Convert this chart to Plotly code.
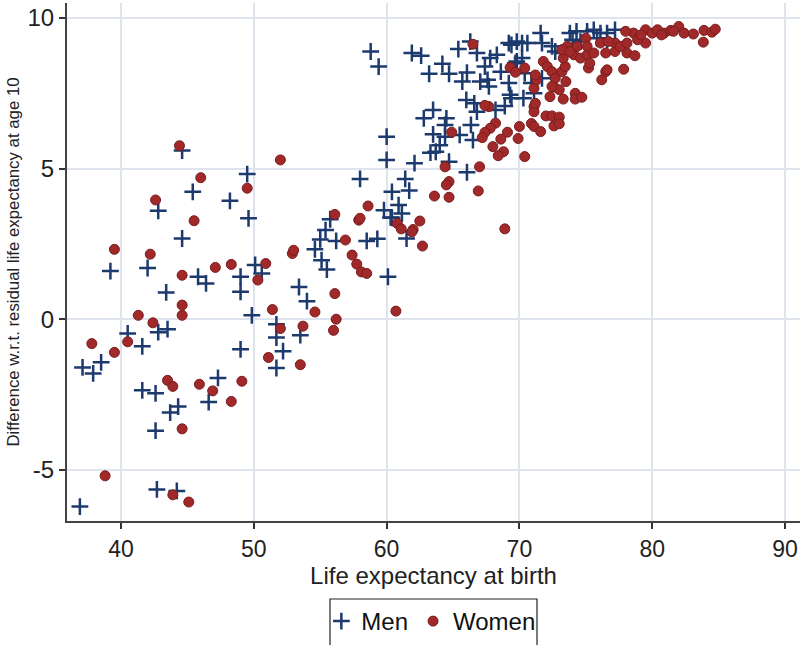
import plotly.graph_objects as go

# ---- Data ----
men_x = [
    36.9, 37.1, 37.9, 38.5, 39.2, 40.5, 41.6, 41.6, 42.0, 42.6, 42.6, 42.8, 42.7, 42.8, 43.5, 43.4,
    43.7, 44.3, 44.2, 44.6, 44.6, 45.4, 45.8, 46.4, 47.3, 46.6, 48.2, 49.0, 49.0, 49.0, 49.5, 49.6,
    49.85, 50.1, 50.6,
    58.0, 55.75, 55.4, 55.0, 56.2, 54.6, 55.1, 55.5, 58.5, 59.3, 59.8, 60.4, 60.1, 53.4, 54.0,
    60.0, 61.4, 60.4, 60.9, 61.15, 60.3, 61.5, 51.7, 51.7, 52.2, 51.7, 53.5,
    58.8, 59.4, 61.9, 62.6, 63.2, 64.2, 64.7, 65.4, 66.3, 66.8, 66.05, 65.7, 67.05, 67.4, 67.8, 68.3,
    69.2, 69.8, 67.6, 67.7, 68.6, 69.2, 69.3, 69.7, 66.0, 66.6, 66.8, 68.2, 68.9, 62.8, 63.5, 64.5,
    64.4, 63.5, 64.4, 65.5, 66.35, 66.5, 64.0, 64.7, 60.0, 62.1, 66.05, 61.7, 63.3, 63.7,
    71.6, 71.7, 69.4, 70.2, 70.6, 69.8, 70.2, 69.4, 70.3, 70.4, 70.9, 71.7, 71.1, 72.45, 72.7,
    73.8, 74.3, 75.1, 75.6, 76.1, 76.6, 77.2, 74.0, 74.6, 75.85, 76.6, 73.2,
]
men_y = [
    -6.22, -1.6, -1.8, -1.43, 1.6, -0.47, -0.9, -2.36, 1.7, -2.46, -3.7, 3.6, -5.65, -0.43, -0.33, 0.89,
    -3.1, -2.9, -5.7, 5.6, 2.68, 4.23, 1.41, 1.19, -1.95, -2.75, 3.93, 1.41, 0.91, -1.0, 4.82, 3.35,
    0.13, 1.8, 1.52,
    4.66, 3.32, 2.96, 2.65, 2.6, 2.32, 1.96, 1.65, 2.6, 2.67, 3.62, 3.37, 1.41, 1.07, 0.6,
    5.29, 4.66, 4.23, 3.79, 3.51, 3.38, 2.68, -0.17, -0.61, -1.06, -1.62, -0.53,
    8.89, 8.39, 8.84, 8.75, 8.15, 8.48, 8.15, 8.97, 9.22, 8.84, 8.19, 7.89, 7.89, 8.39, 8.67, 8.78,
    9.17, 9.22, 7.95, 7.73, 8.22, 7.84, 7.45, 8.5, 7.28, 7.17, 6.89, 6.95, 7.08, 6.67, 6.95, 6.67,
    6.45, 6.14, 6.06, 6.12, 6.45, 5.95, 5.78, 5.23, 6.06, 5.18, 4.88, 4.27, 5.53, 5.56,
    9.5, 9.17, 9.11, 9.17, 9.17, 8.56, 8.67, 7.34, 7.34, 8.17, 7.84, 8.0, 7.5, 9.06, 8.89,
    9.5, 9.56, 9.56, 9.61, 9.5, 9.5, 9.61, 9.28, 9.22, 9.33, 9.28, 8.84,
]

women_x = [
    37.8, 38.8, 39.5, 39.5, 40.5, 41.3, 42.2, 42.4, 42.6, 43.5, 43.9, 43.9, 44.4, 44.6, 44.6, 44.6,
    44.6, 45.1, 45.5, 46.0, 45.9, 46.9, 47.1, 48.3, 48.3, 49.1, 49.5, 50.3, 50.9,
    52.9, 57.4, 57.75, 58.1, 58.5, 56.1, 51.4, 54.6, 56.2, 52.0, 53.7, 56.0, 51.1, 53.5, 60.7, 52.0,
    56.1, 58.6, 57.9, 58.0, 56.9, 53.0, 60.8, 61.1,
    66.5, 69.3, 67.7, 68.2, 67.8, 67.4, 67.2, 69.1, 68.6, 68.0, 68.8, 68.4, 70.0, 64.9, 67.0, 64.4,
    64.7, 64.5, 66.9, 63.6, 64.7, 62.5, 62.0, 61.9, 62.7, 68.9, 70.9, 70.4, 67.4,
    71.1, 71.6, 72.0, 72.45, 73.0, 72.6, 73.0, 71.1, 71.1, 71.2, 72.3, 73.3, 74.2, 74.2, 74.7, 72.6,
    73.0, 73.5, 71.1, 71.3, 71.2, 70.4, 71.8, 72.1, 72.45, 73.2, 73.45, 73.3, 74.1, 74.6, 75.1, 75.2,
    75.3, 76.2, 76.5, 76.6, 77.85, 76.5, 77.2, 78.1, 78.7, 77.2, 77.6, 78.1, 78.6, 78.0, 79.5, 79.5,
    80.0, 80.4, 80.9, 81.4, 82.0, 82.4, 83.1, 83.9, 83.85, 84.5, 84.75, 75.0, 74.35, 75.1, 75.6, 73.6,
    73.2, 73.8, 76.1, 76.7, 78.9, 79.15, 80.7, 81.6, 72.7, 72.45, 69.7, 69.9,
]
women_y = [
    -0.81, -5.2, -1.1, 2.32, -0.75, 0.13, 2.16, -0.12, 3.96, -2.03, -2.23, -5.83, 5.76, -3.64, 0.47, 0.13,
    1.46, -6.07, 3.27, 4.7, -2.16, -2.38, 1.72, 1.82, -2.73, -2.06, 4.35, 1.3, 1.85,
    2.18, 2.13, 1.83, 1.57, 1.52, 0.85, 0.32, 0.24, 0.0, -0.31, -0.23, -0.37, -1.27, -1.51, 0.27, 5.29,
    3.48, 3.76, 3.29, 3.35, 2.63, 2.29, 3.18, 3.0,
    9.13, 8.36, 7.06, 6.51, 6.34, 6.2, 6.03, 6.21, 5.98, 5.73, 5.56, 5.43, 6.4, 6.21, 5.06, 5.06,
    4.57, 4.46, 4.26, 4.09, 4.05, 3.26, 2.98, 2.9, 2.43, 3.0, 6.5, 5.4, 7.1,
    6.4, 6.23, 6.75, 6.75, 6.71, 6.42, 6.49, 7.06, 6.89, 7.17, 7.39, 7.31, 7.5, 7.31, 7.37, 7.71,
    7.62, 7.89, 7.67, 7.95, 8.11, 8.34, 8.56, 8.39, 8.22, 8.22, 8.39, 8.67, 8.78, 8.67, 8.78, 8.34,
    8.5, 7.95, 8.22, 8.28, 8.3, 8.84, 8.89, 8.84, 8.75, 9.17, 9.06, 9.17, 9.5, 9.56, 9.61, 9.17,
    9.5, 9.61, 9.5, 9.59, 9.72, 9.5, 9.47, 9.59, 9.2, 9.53, 9.63, 9.33, 9.06, 9.06, 8.84, 9.06,
    8.95, 8.89, 9.17, 9.22, 9.28, 9.44, 9.44, 9.56, 8.0, 7.73, 8.2, 6.0,
]

x_ticks = [40, 50, 60, 70, 80, 90]
y_ticks = [-5, 0, 5, 10]
y_tick_labels = ["-5", "0", "5", "10"]

FONT = "Liberation Sans, Arial, sans-serif"
MEN_COLOR = "#1c3a6e"
WOMEN_COLOR = "#a1292a"

fig = go.Figure()
fig.add_trace(go.Scatter(
    x=men_x, y=men_y, mode="markers", name="Men",
    marker=dict(symbol="cross-thin-open", size=12, color=MEN_COLOR,
                line=dict(color=MEN_COLOR, width=2.5)),
))
fig.add_trace(go.Scatter(
    x=women_x, y=women_y, mode="markers", name="Women",
    marker=dict(symbol="circle", size=10, color=WOMEN_COLOR,
                line=dict(color="#7a1d1d", width=1)),
))

# legend frame (bottom edge runs off the picture like in the reference)
fig.add_shape(type="rect", xref="paper", yref="paper",
              x0=0.3588, x1=0.6412, y0=-0.40, y1=-0.1506,
              line=dict(color="#222222", width=1.2), fillcolor="rgba(0,0,0,0)", layer="above")

fig.update_layout(
    width=801, height=645,
    margin=dict(l=67, r=1, t=3, b=124),
    paper_bgcolor="white", plot_bgcolor="white",
    font=dict(family=FONT, color="#222222"),
    showlegend=True,
    legend=dict(
        orientation="h", x=0.347, xanchor="left", y=-0.1506, yanchor="top",
        borderwidth=0, bgcolor="rgba(0,0,0,0)",
        font=dict(size=24, family=FONT, color="#111111"),
        itemwidth=30, tracegroupgap=0,
    ),
    xaxis=dict(
        range=[35.93, 91.13], tickvals=x_ticks, ticks="outside", ticklen=6,
        tickwidth=1.5, tickcolor="#333333",
        showline=True, linecolor="#444444", linewidth=2, mirror=False,
        showgrid=True, gridcolor="#dfe3ee", gridwidth=2, zeroline=False,
        tickfont=dict(size=23, family=FONT, color="#222222"),
        title=dict(text="Life expectancy at birth", standoff=2,
                   font=dict(size=24, family=FONT, color="#222222")),
    ),
    yaxis=dict(
        range=[-6.70, 10.5], tickvals=y_ticks, ticktext=y_tick_labels,
        ticks="outside", ticklen=6,
        tickwidth=1.5, tickcolor="#333333",
        showline=True, linecolor="#444444", linewidth=2, mirror=False,
        showgrid=True, gridcolor="#dfe3ee", gridwidth=2, zeroline=False,
        tickfont=dict(size=24, family=FONT, color="#222222"),
        title=dict(text="Difference w.r.t. residual life expectancy at age 10", standoff=4,
                   font=dict(size=16.8, family=FONT, color="#222222")),
    ),
)

fig.write_html("out.html")
